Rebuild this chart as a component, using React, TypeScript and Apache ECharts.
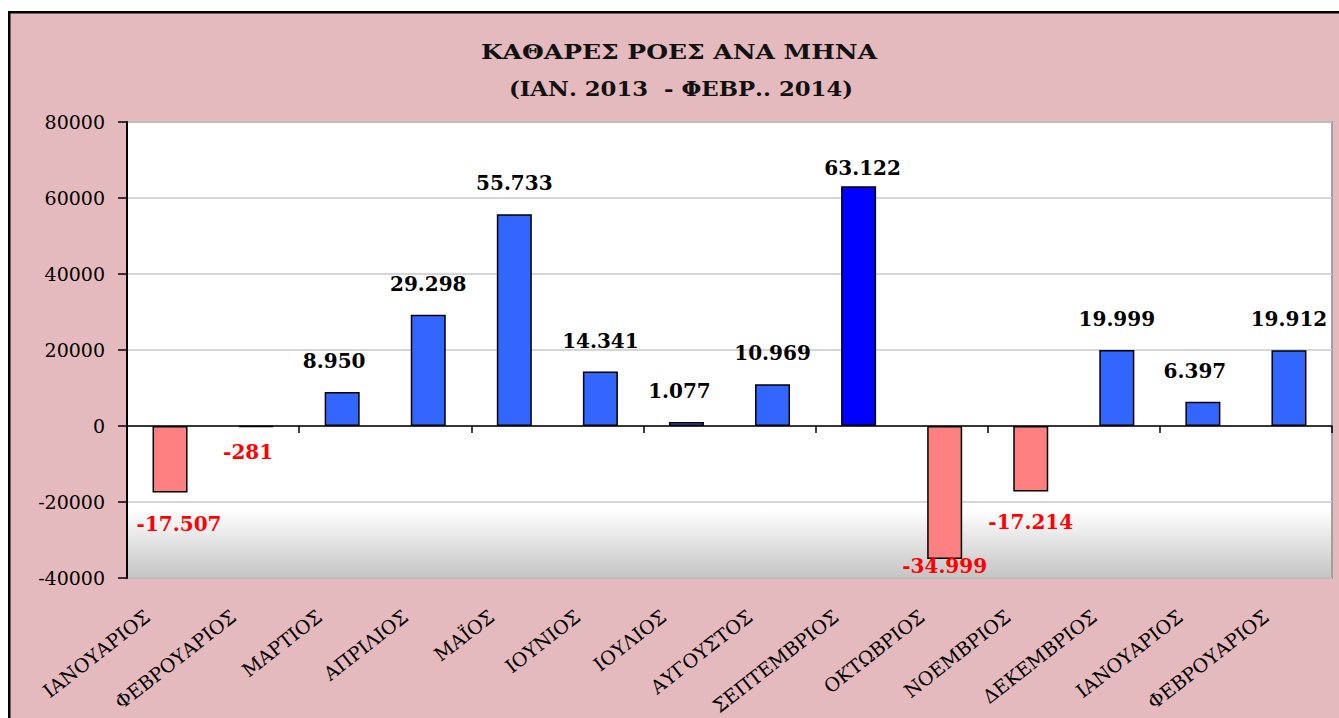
import React, { useEffect, useRef } from "react";
import * as echarts from "echarts";

// ---- data ----
const months: string[] = [
  "ΙΑΝΟΥΑΡΙΟΣ",
  "ΦΕΒΡΟΥΑΡΙΟΣ",
  "ΜΑΡΤΙΟΣ",
  "ΑΠΡΙΛΙΟΣ",
  "ΜΑΪΟΣ",
  "ΙΟΥΝΙΟΣ",
  "ΙΟΥΛΙΟΣ",
  "ΑΥΓΟΥΣΤΟΣ",
  "ΣΕΠΤΕΜΒΡΙΟΣ",
  "ΟΚΤΩΒΡΙΟΣ",
  "ΝΟΕΜΒΡΙΟΣ",
  "ΔΕΚΕΜΒΡΙΟΣ",
  "ΙΑΝΟΥΑΡΙΟΣ",
  "ΦΕΒΡΟΥΑΡΙΟΣ",
];
const netFlows: number[] = [
  -17507, -281, 8950, 29298, 55733, 14341, 1077, 10969, 63122, -34999, -17214,
  19999, 6397, 19912,
];
const highlightedIndex = 8; // ΣΕΠΤΕΜΒΡΙΟΣ drawn darker
const titleLines: string[] = ["ΚΑΘΑΡΕΣ ΡΟΕΣ ΑΝΑ ΜΗΝΑ", "(ΙΑΝ. 2013  - ΦΕΒΡ.. 2014)"];
const yMin = -40000;
const yMax = 80000;
const yStep = 20000;

// label placement tweaks (as in the original)
const labelTweaks: Record<number, { distance?: number; offset?: number[] }> = {
  0: { offset: [9, 0] },
  1: { distance: 15, offset: [-8, 0] },
  2: { offset: [-8, 0] },
  6: { offset: [-7, 0] },
  8: { distance: 8, offset: [4, 0] },
  9: { distance: -3 },
  12: { offset: [-8, 0] },
};

const fmt = (v: number) => {
  const s = String(Math.abs(v)).replace(/\B(?=(\d{3})+(?!\d))/g, ".");
  return (v < 0 ? "-" : "") + s;
};

const SERIF = '"DejaVu Serif", "Liberation Serif", serif';

export default function App() {
  const ref = useRef<HTMLDivElement>(null);

  useEffect(() => {
    document.body.style.margin = "0";
    const chart = echarts.init(ref.current!, null, { renderer: "svg" });

    const barData = netFlows.map((v, i) => {
      const neg = v < 0;
      const tweak = labelTweaks[i] || {};
      return {
        value: v,
        itemStyle: {
          color: neg ? "#ff8080" : i === highlightedIndex ? "#0000ff" : "#3366ff",
          borderColor: "#000",
          borderWidth: 1.5,
        },
        label: {
          show: true,
          position: neg ? "bottom" : "top",
          distance: tweak.distance !== undefined ? tweak.distance : 21,
          offset: tweak.offset || [0, 0],
          color: neg ? "#ff0000" : "#000",
          fontFamily: SERIF,
          fontWeight: "bold",
          fontSize: 20,
          formatter: () => fmt(v),
        },
      };
    });

    chart.setOption({
      animation: false,
      backgroundColor: "#ffffff",
      graphic: [
        {
          type: "rect",
          z: -10,
          shape: { x: 9.25, y: 12.25, width: 1400, height: 800 },
          style: { fill: "#e4babf", stroke: "#000", lineWidth: 2.5 },
        },
        {
          type: "text",
          x: 679,
          y: 52,
          scaleX: 1.25,
          style: {
            text: titleLines[0],
            textAlign: "center",
            textVerticalAlign: "middle",
            font: `bold 20px ${SERIF}`,
            fill: "#111",
          },
        },
        {
          type: "text",
          x: 681,
          y: 89,
          scaleX: 1.14,
          style: {
            text: titleLines[1],
            textAlign: "center",
            textVerticalAlign: "middle",
            font: `bold 20px ${SERIF}`,
            fill: "#111",
          },
        },
      ],
      grid: {
        left: 127,
        right: 7,
        top: 122,
        bottom: 140,
        containLabel: false,
        outerBoundsMode: "none",
        show: true,
        borderColor: "#a0a0a0",
        borderWidth: 2,
        backgroundColor: {
          type: "linear",
          x: 0,
          y: 0,
          x2: 0,
          y2: 1,
          colorStops: [
            { offset: 0, color: "#ffffff" },
            { offset: 0.85, color: "#ffffff" },
            { offset: 1, color: "#c4c4c4" },
          ],
        },
      },
      xAxis: [
        {
          type: "category",
          data: months,
          position: "bottom",
          axisLine: { show: true, onZero: true, lineStyle: { color: "#000", width: 1.5 } },
          axisTick: { show: true, length: 7, lineStyle: { color: "#000", width: 1.5 } },
          axisLabel: { show: false },
          splitLine: { show: false },
        },
        {
          type: "category",
          data: months,
          position: "bottom",
          axisLine: { show: false, onZero: false },
          axisTick: { show: false },
          axisLabel: {
            show: true,
            interval: 0,
            rotate: 38,
            margin: 18,
            padding: [0, 29, 0, 0],
            color: "#000",
            fontFamily: SERIF,
            fontSize: 19,
          },
          splitLine: { show: false },
        },
      ],
      yAxis: {
        type: "value",
        min: yMin,
        max: yMax,
        interval: yStep,
        axisLine: { show: true, lineStyle: { color: "#000", width: 2 } },
        axisTick: { show: true, length: 9, lineStyle: { color: "#000", width: 1.5 } },
        axisLabel: {
          margin: 22,
          color: "#000",
          fontFamily: SERIF,
          fontSize: 19,
          formatter: (v: number) => String(v),
        },
        splitLine: { show: true, lineStyle: { color: "#c8c8c8", width: 1.5 } },
      },
      series: [
        {
          type: "bar",
          xAxisIndex: 0,
          barWidth: 35,
          data: barData,
        },
      ],
    });

    return () => chart.dispose();
  }, []);

  return <div ref={ref} style={{ width: 1339, height: 718 }} />;
}
